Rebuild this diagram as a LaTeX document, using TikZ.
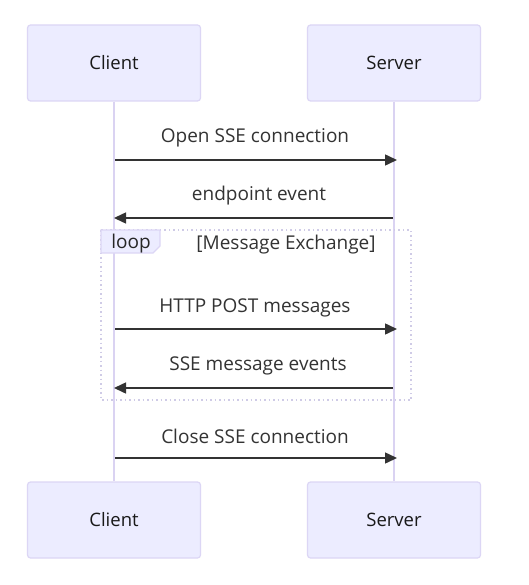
\documentclass[tikz,border=0pt]{standalone}
\usepackage{fontspec}
\setmainfont{Open Sans}
\usetikzlibrary{arrows.meta}
\definecolor{actfill}{HTML}{ECECFF}
\definecolor{actdraw}{HTML}{DCD6F5}
\definecolor{lifec}{HTML}{DAD3F2}
\definecolor{msgc}{HTML}{333333}
\definecolor{loopc}{HTML}{CFCBE6}
\tikzset{
  actor/.style={draw=actdraw, fill=actfill, line width=1.2pt, rounded corners=3pt,
    minimum width=173pt, minimum height=76pt, inner sep=0pt, font=\fontsize{18.5}{22}\selectfont, text=black!90},
  life/.style={draw=lifec, line width=1.8pt},
  msg/.style={draw=msgc, line width=1.5pt, -{Triangle[length=12pt,width=11pt]}},
  msglabel/.style={font=\fontsize{19}{22}\selectfont, text=msgc, inner sep=0pt},
  loopbox/.style={draw=loopc, line width=1.5pt, dash pattern=on 1.5pt off 3pt},
}
\begin{document}
\begin{tikzpicture}[x=1pt,y=-1pt]
\useasboundingbox[fill=white] (0,0) rectangle (528,585);
% actors
\node[actor] (ct) at (114,63) {Client};
\node[actor] (st) at (394,63) {Server};
\node[actor] (cb) at (114,520) {Client};
\node[actor] (sb) at (394,520) {Server};
% lifelines
\draw[life] (ct.south) -- (cb.north);
\draw[life] (st.south) -- (sb.north);
% loop
\draw[loopbox] (101,230) rectangle (411,400);
\fill[actfill] (101,230) -- (160,230) -- (160,246) -- (153,253) -- (101,253) -- cycle;
\draw[actdraw, line width=1.2pt] (101,230) -- (160,230) -- (160,246) -- (153,253) -- (101,253) -- cycle;
\node[msglabel, text=black!85] (looplbl) at (131,244) {loop};
\node[msglabel] (loopcond) at (286,245) {[Message Exchange]};
% message coordinates
\coordinate (c1) at (115,160); \coordinate (s1) at (397,160);
\coordinate (s2) at (393,218); \coordinate (c2) at (114,218);
\coordinate (c3) at (115,329); \coordinate (s3) at (397,329);
\coordinate (s4) at (393,388); \coordinate (c4) at (114,388);
\coordinate (c5) at (115,458); \coordinate (s5) at (397,458);
% messages
\draw[msg] (c1) -- (s1);
\node[msglabel] (m1) at (255,138) {Open SSE connection};
\draw[msg] (s2) -- (c2);
\node[msglabel] (m2) at (259,196) {endpoint event};
\draw[msg] (c3) -- (s3);
\node[msglabel] (m3) at (255,308) {HTTP POST messages};
\draw[msg] (s4) -- (c4);
\node[msglabel] (m4) at (258,366) {SSE message events};
\draw[msg] (c5) -- (s5);
\node[msglabel] (m5) at (255,436) {Close SSE connection};
\end{tikzpicture}
\end{document}
